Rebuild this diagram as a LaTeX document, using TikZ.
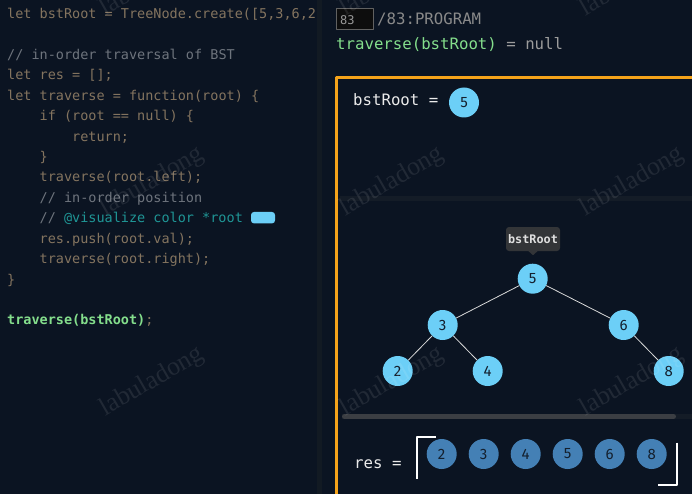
\documentclass[tikz,border=0pt]{standalone}
\usepackage{fontspec}
\setmonofont{DejaVu Sans Mono}
\newfontfamily\numfont{Fira Sans}
\newfontfamily\wmfont{Liberation Serif}
\definecolor{bg}{HTML}{0B1422}
\definecolor{panelsep}{HTML}{121A23}
\definecolor{codetan}{HTML}{84745F}
\definecolor{cmt}{HTML}{6E747D}
\definecolor{vis}{HTML}{1F9696}
\definecolor{codegreen}{HTML}{84DE8C}
\definecolor{nodeblue}{HTML}{6CCFF7}
\definecolor{resblue}{HTML}{4480B5}
\definecolor{nodetext}{HTML}{14202E}
\definecolor{frame}{HTML}{F5A31A}
\definecolor{dimtext}{HTML}{8A8A8A}
\definecolor{tipfill}{HTML}{333538}
\definecolor{bar}{HTML}{141C27}
\definecolor{thumb}{HTML}{3B3E43}
\begin{document}
\begin{tikzpicture}[x=1pt, y=-1pt, line join=round, line cap=round,
	code/.style={anchor=base west, inner sep=0pt, font=\fontsize{13.5}{14}\ttfamily, text=codetan},
	big/.style={anchor=base west, inner sep=0pt, font=\fontsize{15.7}{16}\ttfamily},
	tnode/.style={circle, fill=nodeblue, minimum size=30, inner sep=0pt, text=nodetext, font=\numfont\fontsize{15}{15}\selectfont},
	rnode/.style={tnode, fill=resblue},
	edge/.style={draw=black!15, line width=0.8},
	wm/.style={text=white, text opacity=0.09, font=\wmfont\fontsize{26}{26}\selectfont, rotate=30}]
	\def\lh{20.43} \def\top{18.5} % line height, first baseline
	\def\ia{39.5} \def\ib{72} % indents
	\clip (0,0) rectangle (692,494);
	\fill[bg] (0,0) rectangle (692,494);
	\fill[panelsep] (317,0) rectangle (322,494);
	% code panel
	\begin{scope}
		\clip (0,0) rectangle (317,494);
		\node[code] (l1) at (7,\top) {let bstRoot = TreeNode.create([5,3,6,2};
		\node[code, text=cmt] (l3) at (7,{\top+2*\lh}) {// in-order traversal of BST};
		\node[code] (l4) at (7,{\top+3*\lh}) {let res = [];};
		\node[code] (l5) at (7,{\top+4*\lh}) {let traverse = function(root) \{};
		\node[code] (l6) at (\ia,{\top+5*\lh}) {if (root == null) \{};
		\node[code] (l7) at (\ib,{\top+6*\lh}) {return;};
		\node[code] (l8) at (\ia,{\top+7*\lh}) {\}};
		\node[code] (l9) at (\ia,{\top+8*\lh}) {traverse(root.left);};
		\node[code, text=cmt] (l10) at (\ia,{\top+9*\lh}) {// in-order position};
		\node[code, text=vis] (l11) at (\ia,{\top+10*\lh}) {{\color{cmt}//} @visualize color *root};
		\node[fill=nodeblue, rounded corners=3pt, minimum width=24, minimum height=11.5, inner sep=0pt] (swatch) at (263,217.7) {};
		\node[code] (l12) at (\ia,{\top+11*\lh}) {res.push(root.val);};
		\node[code] (l13) at (\ia,{\top+12*\lh}) {traverse(root.right);};
		\node[code] (l14) at (7,{\top+13*\lh}) {\}};
		\node[code] (l16) at (7,{\top+15*\lh}) {{\bfseries\color{codegreen}traverse(bstRoot)};};
	\end{scope}
	% header
	\node[draw=black!62, line width=1.5, fill=black!95, minimum width=37, minimum height=21, inner sep=0pt] (stepbox) at (355,19) {};
	\node[anchor=base west, inner sep=0pt, text=black!40, font=\fontsize{12}{12}\ttfamily] (cur) at (340,24.5) {83};
	\node[big, text=dimtext] (prog) at (377,25) {/83:PROGRAM};
	\node[big, text=dimtext!85] (call) at (336,49.5) {{\color{codegreen}traverse(bstRoot)} = null};
	% frame
	\draw[frame, line width=2.5, line cap=butt] (694,77.3) -- (336.5,77.3) -- (336.5,496);
	\node[big, text=black!8] (var) at (353,106) {bstRoot =};
	\node[tnode] (b5) at (464,102.5) {5};
	\fill[bar] (340,196) rectangle (692,201);
	% tree
	\node[tnode] (n5) at (532.7,278.7) {5};
	\node[tnode] (n3) at (442.7,325) {3};
	\node[tnode] (n6) at (623.7,325) {6};
	\node[tnode] (n2) at (397.7,371) {2};
	\node[tnode] (n4) at (487.7,371) {4};
	\node[tnode] (n8) at (668.7,371) {8};
	\draw[edge] (n5) -- (n3) (n5) -- (n6) (n3) -- (n2) (n3) -- (n4) (n6) -- (n8);
	\node[fill=tipfill, rounded corners=3pt, minimum width=54, minimum height=24, inner sep=0pt, text=black!12, font=\fontsize{11.8}{12}\ttfamily\bfseries] (tip) at (533,239) {bstRoot};
	\fill[tipfill] (tip.south) ++(-5,-0.5) -- ++(5,4.5) -- ++(5,-4.5) -- cycle;
	% scroll bar
	\fill[bar] (342,414) rectangle (692,419);
	\draw[thumb, line width=5] (344.5,416.5) -- (673.5,416.5);
	% res array
	\node[big, text=black!8] (resl) at (354,468) {res =};
	\foreach \v [count=\i] in {2,3,4,5,6,8}
		\node[rnode] (r\i) at ({441.7+42*(\i-1)},454) {\v};
	\draw[white, line width=2, line cap=butt] (436,436.7) -- (416.7,436.7) -- (416.7,479);
	\draw[white, line width=2, line cap=butt] (676.7,442.7) -- (676.7,485) -- (658,485);
	% watermarks
	\foreach \x in {152,392,632}
		\foreach \y in {-18,182,382}
			\node[wm] at (\x,\y) {labuladong};
\end{tikzpicture}
\end{document}
